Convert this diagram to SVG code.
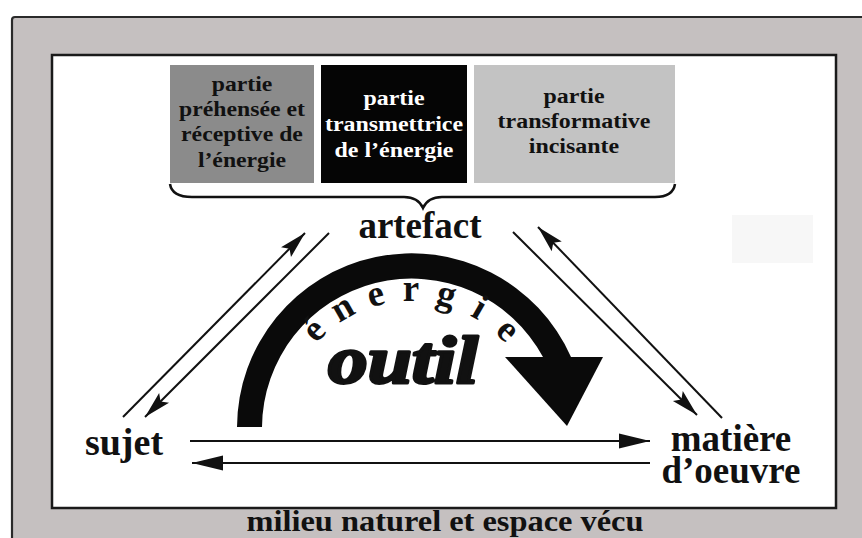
<svg xmlns="http://www.w3.org/2000/svg" width="862" height="538" viewBox="0 0 862 538">
<style>
.lbl{font-family:"Liberation Serif","Times New Roman",serif;font-weight:bold;fill:#111;text-anchor:middle}
.box{font-family:"Liberation Serif","Times New Roman",serif;font-weight:bold;font-size:21px;text-anchor:middle}
.con{stroke:#111;stroke-width:2;fill:none}
.en{font-family:"Liberation Serif","Times New Roman",serif;font-weight:bold;font-size:37px;fill:#111;text-anchor:middle}
</style>
<defs>
<marker id="ah" markerUnits="userSpaceOnUse" markerWidth="34" markerHeight="20" refX="30" refY="8" orient="auto" viewBox="0 0 34 20">
<path d="M30,8 L3,1 L8,8 L3,15 Z" fill="#111"/>
</marker>
<marker id="ahh" markerUnits="userSpaceOnUse" markerWidth="36" markerHeight="20" refX="32" refY="8" orient="auto" viewBox="0 0 36 20">
<path d="M32,8 L1,0.5 L1,15.5 Z" fill="#111"/>
</marker>
</defs>
<rect x="0" y="0" width="862" height="538" fill="#fff"/>
<g id="frame">
<rect x="12" y="17" width="870" height="540" rx="3" fill="#c5c0c0" stroke="#2a2a2a" stroke-width="2.2"/>
<rect x="52" y="55" width="784" height="453" fill="#fff" stroke="#1a1a1a" stroke-width="2.5"/>
<rect x="732" y="215" width="81" height="48" fill="#f7f7f7"/>
<text class="lbl" x="445" y="531" font-size="30" textLength="397" lengthAdjust="spacingAndGlyphs">milieu naturel et espace vécu</text>
</g>
<g id="part1">
<rect x="170" y="65" width="144" height="118" fill="#8b8b8b"/>
<text class="box" fill="#111" transform="translate(242,0) scale(1.13,1) translate(-242,0)"><tspan x="242" y="91">partie</tspan><tspan x="242" y="116">préhensée et</tspan><tspan x="242" y="141">réceptive de</tspan><tspan x="242" y="167">l’énergie</tspan></text>
</g>
<g id="part2">
<rect x="321" y="65" width="146" height="118" fill="#050505"/>
<text class="box" fill="#fff" transform="translate(394,0) scale(1.14,1) translate(-394,0)"><tspan x="394" y="105">partie</tspan><tspan x="394" y="131">transmettrice</tspan><tspan x="394" y="157">de l’énergie</tspan></text>
</g>
<g id="part3">
<rect x="474" y="65" width="201" height="118" fill="#c3c3c3"/>
<text class="box" fill="#111" transform="translate(574,0) scale(1.14,1) translate(-574,0)"><tspan x="574" y="103">partie</tspan><tspan x="574" y="128">transformative</tspan><tspan x="574" y="153">incisante</tspan></text>
</g>
<g id="brace">
<path d="M170,184 Q172,197 192,197 L404,197 Q418,197 423,208 Q428,197 442,197 L655,197 Q673,197 675,184" fill="none" stroke="#111" stroke-width="2.5"/>
</g>
<g id="artefact"><text class="lbl" x="420" y="238" font-size="37">artefact</text></g>
<g id="sujet"><text class="lbl" x="124" y="455" font-size="38">sujet</text></g>
<g id="matiere"><text class="lbl" x="731" y="451" font-size="37">matière</text><text class="lbl" x="731" y="483" font-size="37">d’oeuvre</text></g>
<g id="outil">
<path d="M237,427 A174.5,174.5 0 0 1 571,357 L543,357 A149.5,149.5 0 0 0 262,427 Z" fill="#0a0a0a"/>
<path d="M505,357 L603,357 L567,426 Z" fill="#0a0a0a"/>
<g class="en">
<text transform="translate(411,427) rotate(-45) translate(0,-126)">é</text>
<text transform="translate(411,427) rotate(-30) translate(0,-126)">n</text>
<text transform="translate(411,427) rotate(-15) translate(0,-126)">e</text>
<text transform="translate(411,427) translate(0,-126)">r</text>
<text transform="translate(411,427) rotate(15) translate(0,-126)">g</text>
<text transform="translate(411,427) rotate(30) translate(0,-126)">i</text>
<text transform="translate(411,427) rotate(45) translate(0,-126)">e</text>
</g>
<text x="328" y="383" font-family="'Liberation Serif','Times New Roman',serif" font-weight="bold" font-style="italic" font-size="68" fill="#111" stroke="#111" stroke-width="3" stroke-linejoin="round" textLength="150" lengthAdjust="spacingAndGlyphs">outil</text>
</g>
<g id="connectors">
<line class="con" x1="123" y1="417" x2="305" y2="233" marker-end="url(#ah)"/>
<line class="con" x1="329" y1="233" x2="145" y2="417" marker-end="url(#ah)"/>
<line class="con" x1="513" y1="232" x2="697" y2="415" marker-end="url(#ah)"/>
<line class="con" x1="722" y1="418" x2="538" y2="227" marker-end="url(#ah)"/>
<line class="con" x1="190" y1="441" x2="650" y2="441" stroke-width="2.5" marker-end="url(#ahh)"/>
<line class="con" x1="650" y1="463" x2="192" y2="463" stroke-width="2.5" marker-end="url(#ahh)"/>
</g>
</svg>
